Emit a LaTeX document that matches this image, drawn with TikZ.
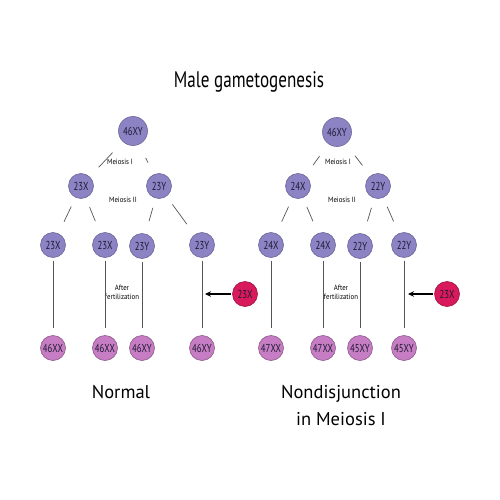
\documentclass[tikz,border=0pt]{standalone}
\usepackage{fontspec}
\setmainfont{PT Sans}
\newfontfamily\condfont[FakeStretch=0.76]{PT Sans}
\newfontfamily\smallfont[FakeStretch=0.9]{PT Sans}
\usetikzlibrary{arrows.meta}
\definecolor{cellpurple}{HTML}{8C83C4}
\definecolor{cellpurpleedge}{HTML}{6C6698}
\definecolor{cellpink}{HTML}{C77DC3}
\definecolor{cellpinkedge}{HTML}{8E5A8C}
\definecolor{cellred}{HTML}{D8195C}
\definecolor{cellrededge}{HTML}{9C1545}
\definecolor{linegray}{HTML}{555555}
\definecolor{textdark}{HTML}{1E1A33}
\tikzset{
  cell/.style={circle, minimum size=25pt, inner sep=0pt, line width=0.6pt,
    font=\condfont\fontsize{11.5}{11.5}\selectfont, text=textdark},
  bigcell/.style={cell, minimum size=29pt},
  purplecell/.style={cell, fill=cellpurple, draw=cellpurpleedge},
  bigpurplecell/.style={bigcell, fill=cellpurple, draw=cellpurpleedge},
  pinkcell/.style={cell, fill=cellpink, draw=cellpinkedge},
  redcell/.style={cell, fill=cellred, draw=cellrededge},
  link/.style={draw=linegray, line width=0.7pt},
  vlink/.style={draw=linegray, line width=0.8pt, shorten <=3pt, shorten >=7pt},
  smalllabel/.style={font=\smallfont\fontsize{7.6}{9}\selectfont, text=black, align=center},
  pointer/.style={draw=black, line width=1.6pt, -{Stealth[length=6pt,width=5.5pt]}, shorten <=1pt},
  bigtitle/.style={font=\condfont\fontsize{22.5}{24}\selectfont, anchor=base},
  caption/.style={font=\fontsize{18.5}{27}\selectfont, anchor=base, align=center}
}
\begin{document}
\begin{tikzpicture}[x=1pt,y=-1pt]
\useasboundingbox (0,0) rectangle (500,500);
\fill[white] (0,0) rectangle (500,500);

\node[bigtitle] (title) at (249,88) {Male gametogenesis};

% ---------- Left tree (Normal) ----------
\node[bigpurplecell] (L0) at (133,131) {46XY};
\node[purplecell] (L1a) at (81,186) {23X};
\node[purplecell] (L1b) at (159,186) {23Y};
\node[purplecell] (L2a) at (53,245) {23X};
\node[purplecell] (L2b) at (105,245) {23X};
\node[purplecell] (L2c) at (142,246) {23Y};
\node[purplecell] (L2d) at (202,245) {23Y};
\node[pinkcell] (L3a) at (53,348) {46XX};
\node[pinkcell] (L3b) at (105,348) {46XX};
\node[pinkcell] (L3c) at (142,348) {46XY};
\node[pinkcell] (L3d) at (202,348) {46XY};
\node[redcell] (LR) at (245,294) {23X};

\node[smalllabel] (Lm1) at (120,162) {Meiosis I};
\node[smalllabel] (Lm2) at (123,200) {Meiosis II};
\node[smalllabel] (Lfert) at (122,292) {After\\fertilization};

\draw[link, shorten <=15pt, shorten >=13pt] (L0) -- (L1a);
\draw[link, shorten <=15pt, shorten >=13pt] (L0) -- (L1b);
\draw[link, shorten <=10pt, shorten >=13pt] (L1a) -- (L2a);
\draw[link, shorten <=10pt, shorten >=13pt] (L1a) -- (L2b);
\draw[link, shorten <=10pt, shorten >=13pt] (L1b) -- (L2c);
\draw[link, shorten <=10pt, shorten >=13pt] (L1b) -- (L2d);
\draw[vlink] (L2a) -- (L3a);
\draw[vlink] (L2b) -- (L3b);
\draw[vlink] (L2c) -- (L3c);
\draw[vlink] (L2d) -- (L3d);
\coordinate (LA) at (205,294);
\draw[pointer] (LR) -- (LA);

\node[caption] (Lcap) at (121,398) {Normal};

% ---------- Right tree (Nondisjunction) ----------
\node[bigpurplecell] (R0) at (337,132) {46XY};
\node[purplecell] (R1a) at (298,186) {24X};
\node[purplecell] (R1b) at (378,186) {22Y};
\node[purplecell] (R2a) at (271,245) {24X};
\node[purplecell] (R2b) at (323,245) {24X};
\node[purplecell] (R2c) at (360,246) {22Y};
\node[purplecell] (R2d) at (404,245) {22Y};
\node[pinkcell] (R3a) at (271,348) {47XX};
\node[pinkcell] (R3b) at (323,348) {47XX};
\node[pinkcell] (R3c) at (360,348) {45XY};
\node[pinkcell] (R3d) at (404,348) {45XY};
\node[redcell] (RR) at (447,294) {23X};

\node[smalllabel] (Rm1) at (338,162) {Meiosis I};
\node[smalllabel] (Rm2) at (342,200) {Meiosis II};
\node[smalllabel] (Rfert) at (341,292) {After\\fertilization};

\draw[link, shorten <=15pt, shorten >=13pt] (R0) -- (R1a);
\draw[link, shorten <=15pt, shorten >=13pt] (R0) -- (R1b);
\draw[link, shorten <=10pt, shorten >=13pt] (R1a) -- (R2a);
\draw[link, shorten <=10pt, shorten >=13pt] (R1a) -- (R2b);
\draw[link, shorten <=10pt, shorten >=13pt] (R1b) -- (R2c);
\draw[link, shorten <=10pt, shorten >=13pt] (R1b) -- (R2d);
\draw[vlink] (R2a) -- (R3a);
\draw[vlink] (R2b) -- (R3b);
\draw[vlink] (R2c) -- (R3c);
\draw[vlink] (R2d) -- (R3d);
\coordinate (RA) at (408,294);
\draw[pointer] (RR) -- (RA);

\node[caption] (Rcap) at (341,425) {Nondisjunction\\in Meiosis I};
\end{tikzpicture}
\end{document}
